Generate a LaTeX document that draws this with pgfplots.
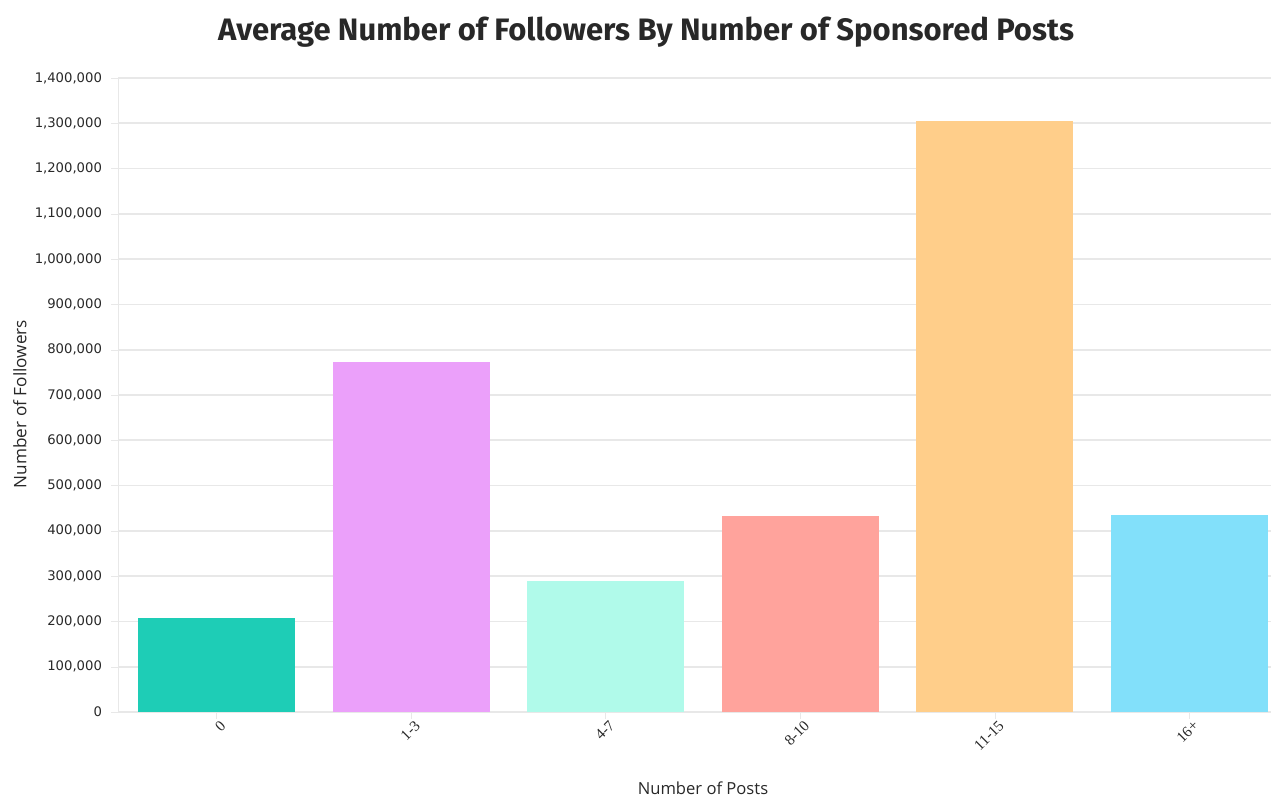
\documentclass[border=0pt]{standalone}
\usepackage{pgfplots}
\pgfplotsset{compat=1.18}
\usepackage{fontspec}
\setmainfont{Open Sans}
\newfontfamily\titlefont{Fira Sans}
\newfontfamily\tickfont{DejaVu Sans}
\newfontfamily\xtickfont{Liberation Serif}
\definecolor{c0}{RGB}{30,205,182}
\definecolor{c1}{RGB}{235,160,250}
\definecolor{c2}{RGB}{176,250,234}
\definecolor{c3}{RGB}{255,163,156}
\definecolor{c4}{RGB}{255,206,138}
\definecolor{c5}{RGB}{130,224,250}
\definecolor{gridc}{RGB}{232,232,232}
\definecolor{txt}{RGB}{40,40,40}
\begin{document}
\begin{tikzpicture}[x=0.5pt,y=0.5pt]
\useasboundingbox (0,0) rectangle (1271,798);
\begin{axis}[
  at={(118*0.5pt,86*0.5pt)}, anchor=south west,
  scale only axis, width=576.5pt, height=317pt,
  xmin=-0.506, xmax=5.419, ymin=0, ymax=1400000,
  axis line style={gridc}, axis x line*=bottom, axis y line*=left,
  ytick={0,100000,...,1400000},
  xtick={0,...,5}, xticklabels={0,1-3,4-7,8-10,11-15,16+},
  ymajorgrids, grid style={gridc, line width=0.8pt},
  tick style={gridc}, major tick length=3.5pt,
  tick align=outside,
  yticklabel style={font=\tickfont\fontsize{6.6}{8}\selectfont, text=txt, xshift=-1pt},
  xticklabel style={font=\xtickfont\fontsize{7.6}{8}\selectfont, text=txt, rotate=45, anchor=north east, xshift=2pt, inner sep=1pt},
  /pgf/number format/assume math mode=true,
  scaled y ticks=false,
  yticklabel={\pgfmathprintnumber[fixed,1000 sep={,}]{\tick}},
  clip=false,
]
\addplot[ybar, bar width=0.807, draw=none, fill=c0] coordinates {(0,207000)};
\addplot[ybar, bar width=0.807, draw=none, fill=c1] coordinates {(1,773000)};
\addplot[ybar, bar width=0.807, draw=none, fill=c2] coordinates {(2,289000)};
\addplot[ybar, bar width=0.807, draw=none, fill=c3] coordinates {(3,433000)};
\addplot[ybar, bar width=0.807, draw=none, fill=c4] coordinates {(4,1305000)};
\addplot[ybar, bar width=0.807, draw=none, fill=c5] coordinates {(5,435000)};
\end{axis}
\node[font=\titlefont\bfseries\fontsize{15.5}{18}\selectfont, text=txt] at (646,766) {Average Number of Followers By Number of Sponsored Posts};
\node[font=\fontsize{8.3}{10}\selectfont, text=txt] at (703,10) {Number of Posts};
\node[font=\fontsize{8.6}{10}\selectfont, text=txt, rotate=90] at (20,394) {Number of Followers};
\end{tikzpicture}
\end{document}
